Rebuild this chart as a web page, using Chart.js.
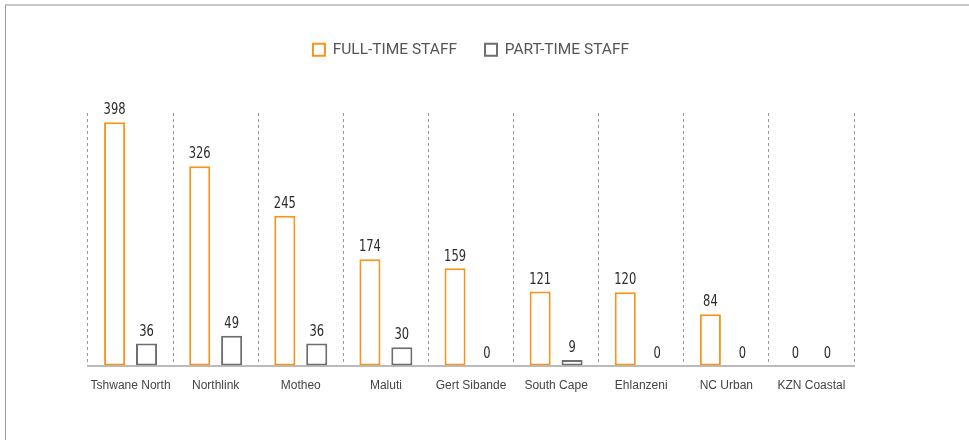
<!DOCTYPE html>
<html>
<head>
<meta charset="utf-8">
<script src="https://cdn.jsdelivr.net/npm/chart.js@4.4.1/dist/chart.umd.min.js"></script>
<style>
  html, body { margin: 0; padding: 0; background: #fff; }
  #wrap { position: relative; width: 969px; height: 440px; overflow: hidden; }
  #card {
    position: absolute; left: 5px; top: 4px; width: 1000px; height: 500px;
    border-top: 2px solid #c8c8c8; border-left: 1px solid #999;
  }
  canvas { position: absolute; left: 0; top: 0; }
</style>
</head>
<body>
<div id="wrap">
  <div id="card"></div>
  <canvas id="staffChart" width="969" height="440"></canvas>
</div>
<script>
  // Data
  const campuses = ["Tshwane North", "Northlink", "Motheo", "Maluti", "Gert Sibande",
    "South Cape", "Ehlanzeni", "NC Urban", "KZN Coastal"];
  const fullTime = [398, 326, 245, 174, 159, 121, 120, 84, 0];
  const partTime = [36, 49, 36, 30, 0, 9, 0, 0, 0];

  const orange = "#f7941d";
  const grey = "#6d6e71";

  // numbers above the bars, slightly condensed
  const valueLabels = {
    id: "valueLabels",
    afterDatasetsDraw(chart) {
      const ctx = chart.ctx;
      chart.data.datasets.forEach((ds, i) => {
        chart.getDatasetMeta(i).data.forEach((bar, j) => {
          ctx.save();
          ctx.font = "16px 'DejaVu Sans Condensed', 'Liberation Sans', sans-serif";
          ctx.fillStyle = "#2b2b2b";
          ctx.textAlign = "center";
          ctx.textBaseline = "bottom";
          ctx.translate(bar.x, bar.y - 4);
          ctx.scale(0.8, 1);
          ctx.fillText(String(ds.data[j]), 0, 0);
          ctx.restore();
        });
      });
    },
  };

  // taller legend block so the plot starts lower
  const legendSpace = {
    id: "legendSpace",
    beforeInit(chart) {
      const origFit = chart.legend.fit;
      chart.legend.fit = function () {
        origFit.bind(chart.legend)();
        this.height = 99;
      };
    },
  };

  const zeroAware = (c) => (c.raw === 0 ? 0 : 2);

  new Chart(document.getElementById("staffChart"), {
    type: "bar",
    data: {
      labels: campuses,
      datasets: [
        {
          label: "FULL-TIME STAFF",
          data: fullTime,
          backgroundColor: "#fff",
          borderColor: orange,
          borderWidth: zeroAware,
          borderSkipped: false,
          categoryPercentage: 0.75,
          barPercentage: 0.66,
        },
        {
          label: "PART-TIME STAFF",
          data: partTime,
          backgroundColor: "#fff",
          borderColor: grey,
          borderWidth: zeroAware,
          borderSkipped: false,
          categoryPercentage: 0.75,
          barPercentage: 0.66,
        },
      ],
    },
    options: {
      responsive: false,
      animation: false,
      layout: { padding: { left: 88, right: 115, top: 14, bottom: 34 } },
      scales: {
        x: {
          grid: {
            display: true,
            offset: true,
            color: "#999",
            lineWidth: 1,
            drawTicks: false,
          },
          border: { display: true, color: "#bbb", width: 2, dash: [3, 3] },
          ticks: {
            color: "#444",
            padding: 13,
            maxRotation: 0,
            autoSkip: false,
            font: { family: "'Liberation Sans', Arial, sans-serif", size: 12 },
          },
        },
        y: {
          display: false,
          min: 0,
          max: 413,
        },
      },
      plugins: {
        legend: {
          position: "top",
          labels: {
            boxWidth: 12,
            boxHeight: 12,
            padding: 28,
            color: "#555",
            font: { family: "Roboto, sans-serif", size: 15.5 },
            generateLabels(chart) {
              return chart.data.datasets.map((ds, i) => ({
                text: ds.label,
                fillStyle: "#fff",
                strokeStyle: i === 0 ? orange : grey,
                lineWidth: 2,
                datasetIndex: i,
                fontColor: "#555",
              }));
            },
          },
        },
        tooltip: { enabled: false },
      },
    },
    plugins: [valueLabels, legendSpace],
  });
</script>
</body>
</html>
